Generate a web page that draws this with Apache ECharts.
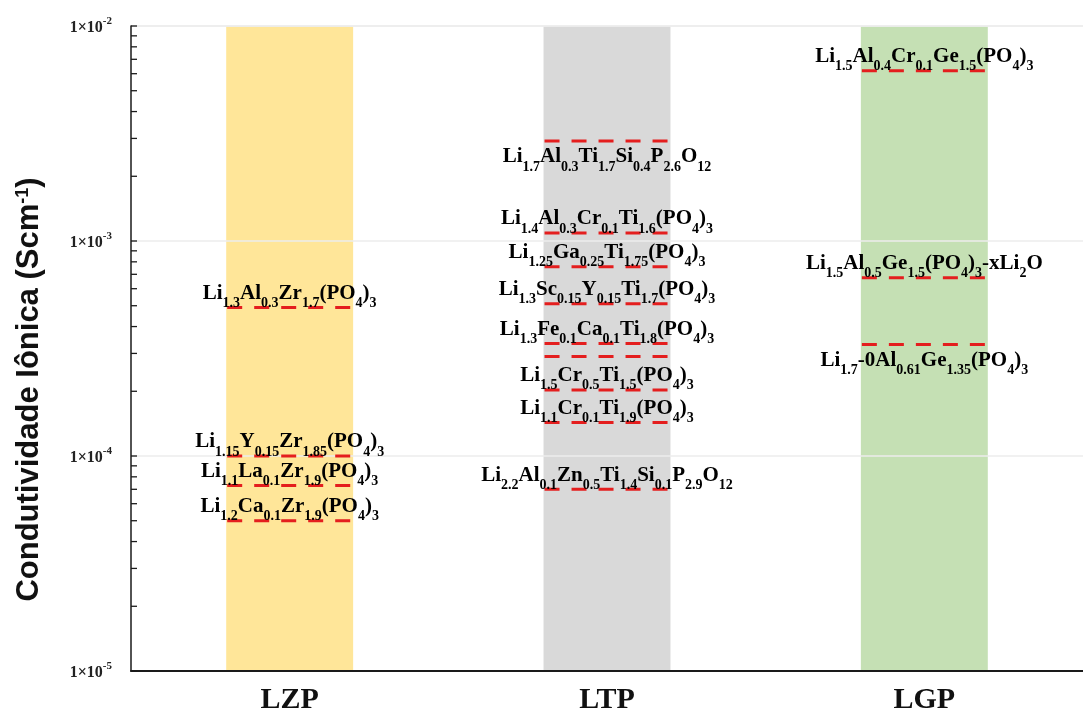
<!DOCTYPE html>
<html>
<head>
<meta charset="utf-8">
<script src="https://cdn.jsdelivr.net/npm/echarts@6/dist/echarts.min.js"></script>
<style>
  html, body { margin: 0; padding: 0; background: #ffffff; }
  #chart { width: 1083px; height: 724px; }
</style>
</head>
<body>
<div id="chart"></div>
<script>
// NASICON families and the conductivity window shaded for each (S/cm)
const categories = ['LZP', 'LTP', 'LGP'];
const bandLow = [1e-5, 1e-5, 1e-5];
const bandHigh = [1e-2, 1e-2, 1e-2];

// Reported ionic conductivities (S/cm) per composition; "_{..}" marks a subscript
const lzpValues = [4.9e-4, 1.0e-4, 7.3e-5, 5.0e-5];
const lzpFormulas = [
  'Li_{1.3}Al_{0.3}Zr_{1.7}(PO_{4})_{3}',
  'Li_{1.15}Y_{0.15}Zr_{1.85}(PO_{4})_{3}',
  'Li_{1.1}La_{0.1}Zr_{1.9}(PO_{4})_{3}',
  'Li_{1.2}Ca_{0.1}Zr_{1.9}(PO_{4})_{3}'
];

const ltpValues = [2.92e-3, 1.09e-3, 7.6e-4, 5.1e-4, 3.34e-4, 2.9e-4, 2.03e-4, 1.43e-4, 7.0e-5];
const ltpFormulas = [
  'Li_{1.7}Al_{0.3}Ti_{1.7}Si_{0.4}P_{2.6}O_{12}',
  'Li_{1.4}Al_{0.3}Cr_{0.1}Ti_{1.6}(PO_{4})_{3}',
  'Li_{1.25}Ga_{0.25}Ti_{1.75}(PO_{4})_{3}',
  'Li_{1.3}Sc_{0.15}Y_{0.15}Ti_{1.7}(PO_{4})_{3}',
  'Li_{1.3}Fe_{0.1}Ca_{0.1}Ti_{1.8}(PO_{4})_{3}',
  '',
  'Li_{1.5}Cr_{0.5}Ti_{1.5}(PO_{4})_{3}',
  'Li_{1.1}Cr_{0.1}Ti_{1.9}(PO_{4})_{3}',
  'Li_{2.2}Al_{0.1}Zn_{0.5}Ti_{1.4}Si_{0.1}P_{2.9}O_{12}'
];

const lgpValues = [6.2e-3, 6.75e-4, 3.3e-4];
const lgpFormulas = [
  'Li_{1.5}Al_{0.4}Cr_{0.1}Ge_{1.5}(PO_{4})_{3}',
  'Li_{1.5}Al_{0.5}Ge_{1.5}(PO_{4})_{3}-xLi_{2}O',
  'Li_{1.7}-0Al_{0.61}Ge_{1.35}(PO_{4})_{3}'
];

// Decade exponents labelled on the conductivity axis
const yTickExponents = [-5, -4, -3, -2];

// ---- drawing setup ----
const bandColors = ['#FFE699', '#D9D9D9', '#C5E0B4'];
const dashColor = '#E41E1E';
const serif = '"Liberation Serif", "Times New Roman", serif';
// formulas whose caption sits under their dashed marker
const captionBelow = new Set([ltpFormulas[0], lgpFormulas[2]]);

function toRich(f) {
  let out = '';
  const re = /_\{([^}]*)\}/g;
  let last = 0, m;
  while ((m = re.exec(f))) {
    if (m.index > last) out += '{n|' + f.slice(last, m.index) + '}';
    out += '{s|' + m[1] + '}';
    last = re.lastIndex;
  }
  if (last < f.length) out += '{n|' + f.slice(last) + '}';
  return out;
}

const formulaRich = {
  n: { fontFamily: serif, fontWeight: 'bold', fontSize: 21, lineHeight: 34, verticalAlign: 'middle', color: '#1b1b1b' },
  s: { fontFamily: serif, fontWeight: 'bold', fontSize: 14, lineHeight: 13, verticalAlign: 'bottom', color: '#1b1b1b' }
};

const markers = [];
const markerLabels = [];
[lzpValues, ltpValues, lgpValues].forEach((vals, ci) => {
  const labels = [lzpFormulas, ltpFormulas, lgpFormulas][ci];
  vals.forEach((v, k) => {
    markers.push([ci, v]);
    markerLabels.push(labels[k]);
  });
});

const tickValues = [];
yTickExponents.forEach((e, idx) => {
  tickValues.push(Math.pow(10, e));
  if (idx < yTickExponents.length - 1) {
    for (let d = 2; d <= 9; d++) tickValues.push(d * Math.pow(10, e));
  }
});

function bandWidth(api) {
  return api.coord([1, 1e-3])[0] - api.coord([0, 1e-3])[0];
}

const chart = echarts.init(document.getElementById('chart'), null, { renderer: 'canvas' });

chart.setOption({
  backgroundColor: '#ffffff',
  animation: false,
  grid: { left: 131, right: -11, top: 26, bottom: 53 },
  xAxis: {
    type: 'category',
    data: categories,
    z: 1,
    axisLine: { show: true, lineStyle: { color: '#1a1a1a', width: 2 } },
    axisTick: { show: false },
    axisLabel: { fontFamily: serif, fontWeight: 'bold', fontSize: 30, color: '#111', margin: 14 },
    splitLine: { show: false }
  },
  yAxis: {
    type: 'log',
    logBase: 10,
    min: 1e-5,
    max: 1e-2,
    z: 1,
    axisLine: { show: true, lineStyle: { color: '#1a1a1a', width: 1.5 } },
    axisTick: { show: false },
    axisLabel: {
      margin: 19,
      formatter: v => '{n|1×10}{sup|' + Math.round(Math.log10(v)) + '}',
      rich: {
        n: { fontFamily: serif, fontWeight: 'bold', fontSize: 16, lineHeight: 20, verticalAlign: 'bottom', color: '#222' },
        sup: { fontFamily: serif, fontWeight: 'bold', fontSize: 11, lineHeight: 10, verticalAlign: 'top', color: '#222' }
      }
    },
    splitLine: { show: true, lineStyle: { color: '#ececec', width: 1.5 } },
    name: 'Condutividade Iônica (Scm{sup|-1})',
    nameLocation: 'middle',
    nameRotate: 90,
    nameGap: 86,
    nameTextStyle: {
      fontFamily: '"Liberation Sans", Arial, sans-serif',
      fontWeight: 'bold',
      fontSize: 31,
      color: '#111',
      padding: [0, 82, 0, 0],
      rich: {
        sup: { fontFamily: '"Liberation Sans", Arial, sans-serif', fontWeight: 'bold', fontSize: 18, lineHeight: 18, verticalAlign: 'top', color: '#111' }
      }
    }
  },
  series: [
    {
      // shaded conductivity window of each family
      type: 'custom',
      z: 0,
      silent: true,
      data: categories.map((c, i) => [i, bandLow[i], bandHigh[i]]),
      renderItem(params, api) {
        const i = api.value(0);
        const lo = api.coord([i, api.value(1)]);
        const hi = api.coord([i, api.value(2)]);
        const w = bandWidth(api) * 0.4;
        return {
          type: 'rect',
          shape: { x: lo[0] - w / 2, y: hi[1], width: w, height: lo[1] - hi[1] },
          style: { fill: bandColors[i] }
        };
      }
    },
    {
      // dashed marker and formula caption for each composition
      type: 'custom',
      z: 3,
      silent: true,
      data: markers,
      renderItem(params, api) {
        const p = api.coord([api.value(0), api.value(1)]);
        const w = bandWidth(api) * 0.4;
        const label = markerLabels[params.dataIndex];
        const children = [{
          type: 'line',
          shape: { x1: p[0] - w / 2 + 1, y1: p[1], x2: p[0] + w / 2, y2: p[1] },
          style: { stroke: dashColor, lineWidth: 3, lineDash: [15, 12] }
        }];
        if (label) {
          const below = captionBelow.has(label);
          children.push({
            type: 'text',
            x: p[0],
            y: below ? p[1] - 1 : p[1] + 3,
            style: {
              text: toRich(label),
              rich: formulaRich,
              align: 'center',
              verticalAlign: below ? 'top' : 'bottom'
            }
          });
        }
        return { type: 'group', children };
      }
    },
    {
      // inward ticks on the logarithmic axis
      type: 'custom',
      z: 3,
      silent: true,
      data: tickValues.map(v => [0, v]),
      renderItem(params, api) {
        const p = api.coord([0, api.value(1)]);
        const x0 = params.coordSys.x;
        return {
          type: 'line',
          shape: { x1: x0, y1: p[1], x2: x0 + 6, y2: p[1] },
          style: { stroke: '#1a1a1a', lineWidth: 1.3 }
        };
      }
    }
  ]
});
</script>
</body>
</html>
